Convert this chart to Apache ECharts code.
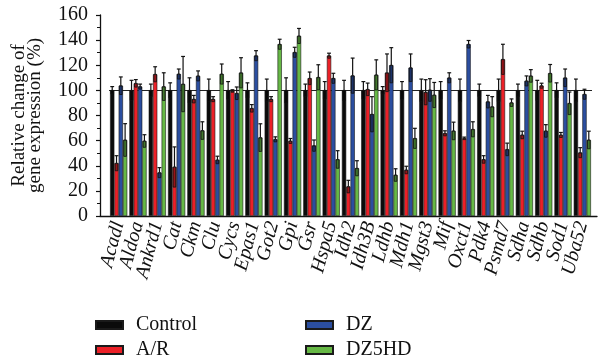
<!DOCTYPE html>
<html>
<head>
<meta charset="utf-8">
<script src="https://cdn.jsdelivr.net/npm/echarts@6/dist/echarts.min.js"></script>
<style>
  html, body { margin: 0; background: #fff; }
  #chart { width: 598px; height: 362px; }
</style>
</head>
<body>
<div id="chart"></div>
<script>
const genes = ['Acadl', 'Aldoa', 'Ankrd1', 'Cat', 'Ckm', 'Clu', 'Cycs', 'Epas1', 'Got2', 'Gpi', 'Gsr', 'Hspa5', 'Idh2',
  'Idh3B', 'Ldhb', 'Mdh1', 'Mgst3', 'Mif', 'Oxct1', 'Pdk4', 'Psmd7', 'Sdha', 'Sdhb', 'Sod1', 'Uba52'];

const control = [100, 100, 100, 100, 100, 100, 100, 100, 100, 100, 100, 100, 100,
  100, 100, 100, 100, 100, 100, 100, 100, 100, 100, 100, 100];
const controlErr = [3, 8, 5, 6, 10, 9, 7, 6, 9, 10, 5, 7, 8, 7, 3, 7, 9, 7, 9, 5, 9, 5, 8, 6, 9];

const ar = [42, 105.6, 112.8, 39, 93, 93, 99.5, 85.7, 93, 59.7, 109.6, 127.6, 23.4,
  100.8, 114, 36.6, 98.5, 65.8, 61.8, 45, 124.7, 64.5, 103.7, 64.5, 50.4];
const arErr = [6, 3, 6, 16, 3, 2, 1, 3, 2, 2, 5, 2, 5, 5, 15, 3, 10, 2, 1, 3, 12, 3, 2, 2, 4];

const dz = [103.7, 103, 34.5, 113, 111.5, 44.6, 97.7, 127.6, 61, 130.3, 56, 109.6, 111.7,
  81, 120, 118, 100.3, 110, 136.7, 91, 53, 107.5, 67.7, 110, 96.9];
const dzErr = [7, 2, 4, 4, 4, 3, 5, 4, 2, 4, 4.5, 4, 14, 14, 14, 11, 9, 4, 3, 5, 5, 4, 5, 7, 4];

const dz5hd = [60.5, 59.7, 103, 105, 68, 113, 114, 62.4, 136.7, 143.3, 110.4, 45, 38,
  112.3, 32.6, 61.8, 96.3, 67.7, 69, 87, 90.2, 111.5, 113.6, 89.7, 60.5];
const dz5hdErr = [13, 5, 11, 22, 7, 8, 12, 11, 4, 6, 10, 7, 6, 12, 5, 8, 10, 7, 6, 8, 3, 5, 7, 9, 7];

const groups = [
  { name: 'Control', values: control, errs: controlErr, color: '#0b0b0b' },
  { name: 'A/R', values: ar, errs: arErr, color: '#ec2027' },
  { name: 'DZ', values: dz, errs: dzErr, color: '#2b4ea0' },
  { name: 'DZ5HD', values: dz5hd, errs: dz5hdErr, color: '#66b845' },
];

const SERIF = '"Liberation Serif", "Times New Roman", serif';
const catGap = 0.11;

const chart = echarts.init(document.getElementById('chart'));

function barSeries(group) {
  return {
    name: group.name,
    type: 'bar',
    xAxisIndex: 0,
    yAxisIndex: 0,
    z: 2,
    barGap: '0%',
    barCategoryGap: (catGap * 100) + '%',
    itemStyle: { color: group.color, borderColor: '#1a1a1a', borderWidth: 0.6 },
    data: group.values,
  };
}

function errorSeries(group, k) {
  return {
    name: group.name + ' SEM',
    type: 'custom',
    xAxisIndex: 0,
    yAxisIndex: 0,
    z: 3,
    silent: true,
    encode: { x: 0, y: 1 },
    data: genes.map((g, i) => [i, group.values[i], group.errs[i]]),
    renderItem(params, api) {
      const i = api.value(0);
      const v = api.value(1);
      const e = api.value(2);
      const band = api.size([1, 0])[0];
      const barW = band * (1 - catGap) / 4;
      const p = api.coord([i, v]);
      const cx = p[0] + (k - 1.5) * barW;
      const top = api.coord([i, v + e])[1];
      const bot = api.coord([i, v - e])[1];
      const boxW = barW * 0.62;
      const capW = barW * 0.9;
      return {
        type: 'group',
        children: [
          { type: 'rect', shape: { x: cx - boxW / 2, y: p[1], width: boxW, height: bot - p[1] },
            style: { fill: 'rgba(0,0,0,0.35)', stroke: '#111', lineWidth: 0.8 } },
          { type: 'line', shape: { x1: cx, y1: p[1], x2: cx, y2: top },
            style: { stroke: '#111', lineWidth: 1.2 } },
          { type: 'line', shape: { x1: cx - capW / 2, y1: top, x2: cx + capW / 2, y2: top },
            style: { stroke: '#111', lineWidth: 1.2 } },
        ],
      };
    },
  };
}

// one legend per entry so the 2x2 layout is exact
const legendSpots = [
  { name: 'Control', left: 95, top: 315 },
  { name: 'A/R', left: 95, top: 340 },
  { name: 'DZ', left: 305, top: 315 },
  { name: 'DZ5HD', left: 305, top: 340 },
];

chart.setOption({
  animation: false,
  backgroundColor: '#fff',
  grid: [
    { left: 109, right: 6, top: 15, bottom: 146 },
    { left: 100, right: 1, top: 15, bottom: 146 },
  ],
  legend: legendSpots.map((s) => ({
    left: s.left,
    top: s.top,
    padding: 0,
    itemWidth: 27,
    itemHeight: 8,
    icon: 'rect',
    data: [s.name],
    textStyle: { fontFamily: SERIF, fontSize: 20, color: '#111', lineHeight: 20, padding: [0, 0, 0, 8] },
  })),
  xAxis: [
    {
      type: 'category',
      gridIndex: 0,
      data: genes,
      axisLine: { show: false },
      axisTick: { show: false },
      axisLabel: {
        interval: 0,
        rotate: 75,
        margin: 6,
        fontFamily: SERIF,
        fontStyle: 'italic',
        fontSize: 20,
        color: '#111',
      },
    },
    {
      type: 'value',
      gridIndex: 1,
      min: 0,
      max: 1,
      axisLine: { show: true, lineStyle: { color: '#111', width: 1.3 } },
      axisTick: { show: false },
      axisLabel: { show: false },
      splitLine: { show: false },
    },
  ],
  yAxis: [
    { type: 'value', gridIndex: 0, min: 0, max: 160, show: false },
    {
      type: 'value',
      gridIndex: 1,
      min: 0,
      max: 160,
      interval: 20,
      name: 'Relative change of\ngene expression (%)',
      nameLocation: 'middle',
      nameGap: 57,
      nameTextStyle: { fontFamily: SERIF, fontSize: 19, lineHeight: 16, color: '#111' },
      axisLine: { show: true, lineStyle: { color: '#111', width: 1.3 } },
      axisTick: { show: true, length: 4, lineStyle: { color: '#111', width: 1.2 } },
      minorTick: { show: true, splitNumber: 2, length: 3, lineStyle: { color: '#111', width: 1 } },
      axisLabel: { margin: 12, fontFamily: SERIF, fontSize: 20, color: '#111' },
      splitLine: { show: false },
    },
  ],
  series: [
    {
      name: 'ref',
      type: 'line',
      xAxisIndex: 0,
      yAxisIndex: 0,
      data: [],
      markLine: {
        silent: true,
        z: 1,
        symbol: 'none',
        label: { show: false },
        lineStyle: { color: '#222', width: 1, type: 'solid' },
        data: [{ yAxis: 100 }],
      },
    },
    ...groups.map(barSeries),
    ...groups.map(errorSeries),
  ],
});
</script>
</body>
</html>
